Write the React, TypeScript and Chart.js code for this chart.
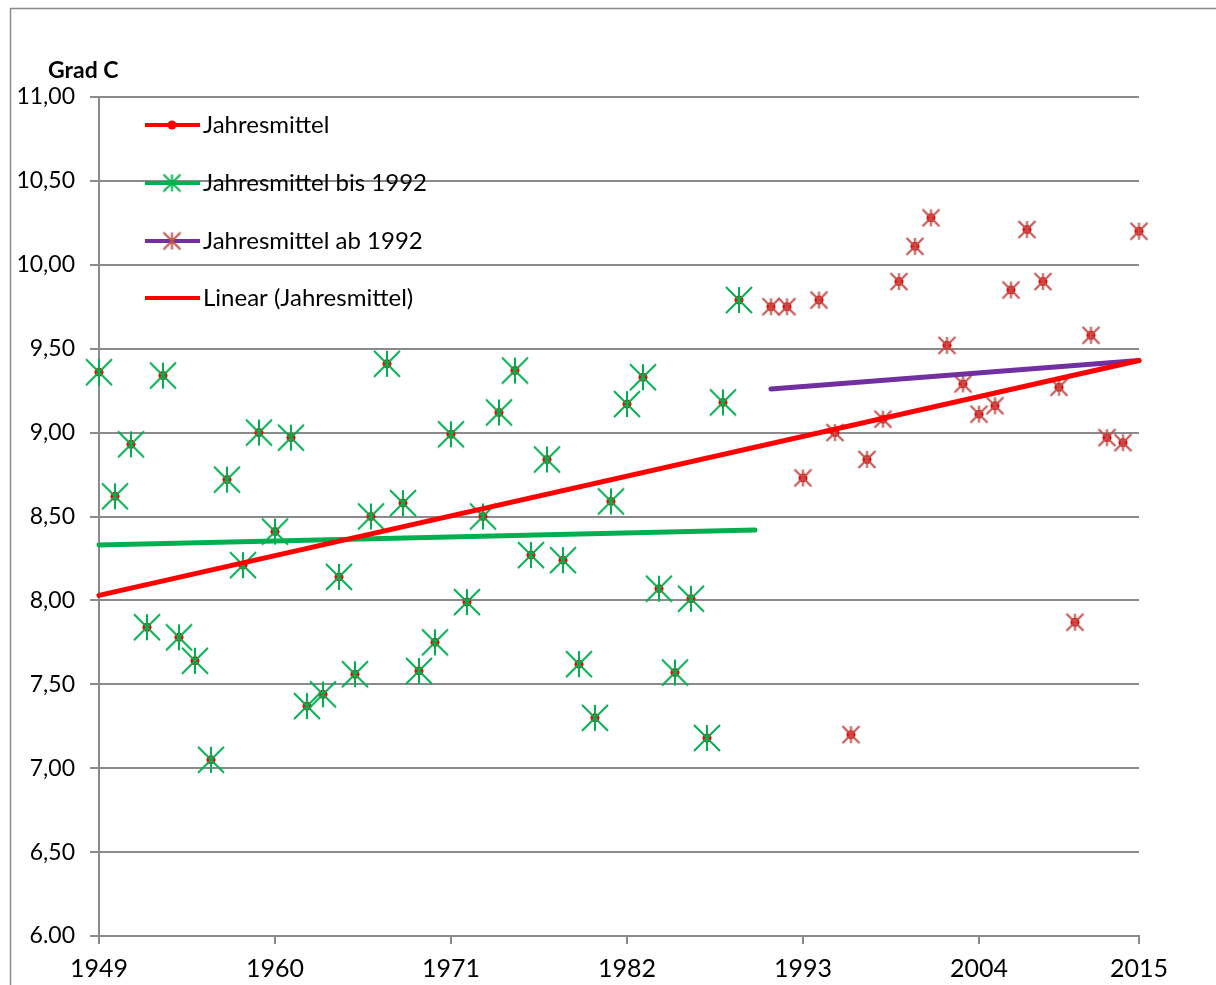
import React, { useEffect, useRef } from 'react';
import { Chart, registerables } from 'chart.js';

Chart.register(...registerables);

// ---- Data ----
const X_TICK_POSITIONS = [0, 11, 22, 33, 44, 55, 65];
const X_TICK_LABELS = ['1949', '1960', '1971', '1982', '1993', '2004', '2015'];

const Y_TICK_VALUES = [6, 6.5, 7, 7.5, 8, 8.5, 9, 9.5, 10, 10.5, 11];
const Y_TICK_LABELS = ['6.00', '6,50', '7,00', '7,50', '8,00', '8,50', '9,00', '9,50', '10,00', '10,50', '11,00'];

// Jahresmittel bis 1992 (category index 0..40)
const BIS_1992_START = 0;
const BIS_1992 = [
  9.36, 8.62, 8.93, 7.84, 9.34, 7.78, 7.64, 7.05, 8.72, 8.21,
  9.0, 8.41, 8.97, 7.37, 7.44, 8.14, 7.56, 8.5, 9.41, 8.58,
  7.58, 7.75, 8.99, 7.99, 8.5, 9.12, 9.37, 8.27, 8.84, 8.24,
  7.62, 7.3, 8.59, 9.17, 9.33, 8.07, 7.57, 8.01, 7.18, 9.18,
  9.79,
];

// Jahresmittel ab 1992 (category index 42..65)
const AB_1992_START = 42;
const AB_1992 = [
  9.75, 9.75, 8.73, 9.79, 9.0, 7.2, 8.84, 9.08, 9.9, 10.11,
  10.28, 9.52, 9.29, 9.11, 9.16, 9.85, 10.21, 9.9, 9.27, 7.87,
  9.58, 8.97, 8.94, 10.2,
];

// Trend lines (end points)
const TREND_ALL_X = [0, 65];
const TREND_ALL_Y = [8.03, 9.43];
const TREND_BIS_X = [0, 41];
const TREND_BIS_Y = [8.33, 8.42];
const TREND_AB_X = [42, 65];
const TREND_AB_Y = [9.26, 9.43];

const LEGEND_LABELS = ['Jahresmittel', 'Jahresmittel bis 1992', 'Jahresmittel ab 1992', 'Linear (Jahresmittel)'];

// ---- Styles ----
const RED = '#FF0000';
const GREEN = '#00B050';
const PURPLE = '#7030A0';
const BROWN = '#C0504D';
const GRID = '#8A8A8A';
const FONT = 'Lato, "Open Sans", sans-serif';

function makeAsterisk(size: number, color: string, lw: number): HTMLCanvasElement {
  const pad = 2;
  const c = document.createElement('canvas');
  c.width = size + pad * 2;
  c.height = size + pad * 2;
  const g = c.getContext('2d')!;
  g.strokeStyle = color;
  g.lineWidth = lw;
  g.beginPath();
  g.moveTo(pad, pad);
  g.lineTo(pad + size, pad + size);
  g.moveTo(pad + size, pad);
  g.lineTo(pad, pad + size);
  g.moveTo(pad + size / 2, pad);
  g.lineTo(pad + size / 2, pad + size);
  g.stroke();
  return c;
}

function toPoints(start: number, values: number[]) {
  return values.map((v, i) => ({ x: start + i, y: v }));
}
function pairPoints(xs: number[], ys: number[]) {
  return xs.map((x, i) => ({ x, y: ys[i] }));
}

export default function App() {
  const canvasRef = useRef<HTMLCanvasElement | null>(null);

  useEffect(() => {
    if (!canvasRef.current) return;
    const greenStar = makeAsterisk(26, GREEN, 2);
    const brownStar = makeAsterisk(17, BROWN, 2);
    const greenStarSmall = makeAsterisk(17, GREEN, 2);

    const allPoints = [...toPoints(BIS_1992_START, BIS_1992), ...toPoints(AB_1992_START, AB_1992)];

    const framePlugin = {
      id: 'frameAndTitle',
      beforeDraw(chart: any) {
        const ctx = chart.ctx;
        ctx.save();
        ctx.strokeStyle = GRID;
        ctx.lineWidth = 1.5;
        ctx.beginPath();
        ctx.moveTo(10.5, 985);
        ctx.lineTo(10.5, 8.5);
        ctx.lineTo(1216, 8.5);
        ctx.stroke();
        ctx.fillStyle = '#000';
        ctx.font = `bold 23px ${FONT}`;
        ctx.textBaseline = 'middle';
        ctx.textAlign = 'left';
        ctx.fillText('Grad C', 48, 71);
        ctx.restore();
      },
      afterDatasetsDraw(chart: any) {
        const ctx = chart.ctx;
        ctx.save();
        const rows = [125, 183, 241, 298];
        const lineColors = [RED, GREEN, PURPLE, RED];
        rows.forEach((y, i) => {
          ctx.strokeStyle = lineColors[i];
          ctx.lineWidth = 4;
          ctx.lineCap = 'butt';
          ctx.beginPath();
          ctx.moveTo(145, y);
          ctx.lineTo(200, y);
          ctx.stroke();
          if (i === 0) {
            ctx.fillStyle = RED;
            ctx.beginPath();
            ctx.arc(172, y, 4.5, 0, Math.PI * 2);
            ctx.fill();
          } else if (i === 1) {
            ctx.drawImage(greenStarSmall, 172 - greenStarSmall.width / 2, y - greenStarSmall.height / 2);
          } else if (i === 2) {
            ctx.drawImage(brownStar, 172 - brownStar.width / 2, y - brownStar.height / 2);
          }
          ctx.fillStyle = '#000';
          ctx.font = `24px ${FONT}`;
          ctx.textBaseline = 'middle';
          ctx.textAlign = 'left';
          ctx.fillText(LEGEND_LABELS[i], 203, y);
        });
        ctx.restore();
      },
    };

    const chart = new Chart(canvasRef.current, {
      type: 'scatter',
      data: {
        datasets: [
          {
            label: LEGEND_LABELS[3],
            data: pairPoints(TREND_ALL_X, TREND_ALL_Y),
            showLine: true,
            borderColor: RED,
            borderWidth: 5,
            pointRadius: 0,
            borderCapStyle: 'round',
            order: 0,
            clip: false,
          },
          {
            label: 'Trend bis 1992',
            data: pairPoints(TREND_BIS_X, TREND_BIS_Y),
            showLine: true,
            borderColor: GREEN,
            borderWidth: 5,
            pointRadius: 0,
            borderCapStyle: 'round',
            order: 0,
            clip: false,
          },
          {
            label: 'Trend ab 1992',
            data: pairPoints(TREND_AB_X, TREND_AB_Y),
            showLine: true,
            borderColor: PURPLE,
            borderWidth: 5,
            pointRadius: 0,
            borderCapStyle: 'round',
            order: 0,
            clip: false,
          },
          {
            label: LEGEND_LABELS[1],
            data: toPoints(BIS_1992_START, BIS_1992),
            pointStyle: greenStar as any,
            pointRadius: 6,
            showLine: false,
            order: 1,
            clip: false,
          },
          {
            label: LEGEND_LABELS[2],
            data: toPoints(AB_1992_START, AB_1992),
            pointStyle: brownStar as any,
            pointRadius: 6,
            showLine: false,
            order: 1,
            clip: false,
          },
          {
            label: LEGEND_LABELS[0],
            data: allPoints,
            pointStyle: 'circle',
            pointRadius: 4.5,
            pointBackgroundColor: RED,
            pointBorderWidth: 0,
            showLine: false,
            order: 2,
            clip: false,
          },
        ],
      },
      options: {
        animation: false,
        responsive: false,
        layout: { padding: { left: 0, top: 97, right: 77, bottom: 0 } },
        plugins: {
          legend: { display: false },
          tooltip: { enabled: false },
          title: { display: false },
        },
        scales: {
          x: {
            type: 'linear',
            min: 0,
            max: 65,
            afterFit: (s: any) => {
              s.height = 49;
            },
            afterBuildTicks: (s: any) => {
              s.ticks = X_TICK_POSITIONS.map((v) => ({ value: v }));
            },
            grid: {
              display: true,
              drawOnChartArea: false,
              drawTicks: true,
              tickLength: 8,
              color: GRID,
              lineWidth: 2,
            },
            border: { display: true, color: GRID, width: 2 },
            ticks: {
              autoSkip: false,
              maxRotation: 0,
              padding: 10,
              color: '#000',
              font: { family: FONT, size: 25 },
              callback: (value: any) => {
                const i = X_TICK_POSITIONS.indexOf(Number(value));
                return i >= 0 ? X_TICK_LABELS[i] : '';
              },
            },
          },
          y: {
            type: 'linear',
            min: 6,
            max: 11,
            afterFit: (s: any) => {
              s.width = 99;
            },
            afterBuildTicks: (s: any) => {
              s.ticks = Y_TICK_VALUES.map((v) => ({ value: v }));
            },
            grid: {
              display: true,
              drawTicks: true,
              tickLength: 9,
              color: GRID,
              lineWidth: 2,
            },
            border: { display: true, color: GRID, width: 2 },
            ticks: {
              padding: 15,
              color: '#000',
              font: { family: FONT, size: 23 },
              callback: (value: any) => {
                const i = Y_TICK_VALUES.indexOf(Number(value));
                return i >= 0 ? Y_TICK_LABELS[i] : '';
              },
            },
          },
        },
      },
      plugins: [framePlugin],
    } as any);

    return () => {
      chart.destroy();
    };
  }, []);

  return (
    <div style={{ position: 'absolute', left: 0, top: 0, width: 1216, height: 985, background: '#fff' }}>
      <canvas ref={canvasRef} width={1216} height={985} style={{ width: 1216, height: 985, display: 'block' }} />
    </div>
  );
}
